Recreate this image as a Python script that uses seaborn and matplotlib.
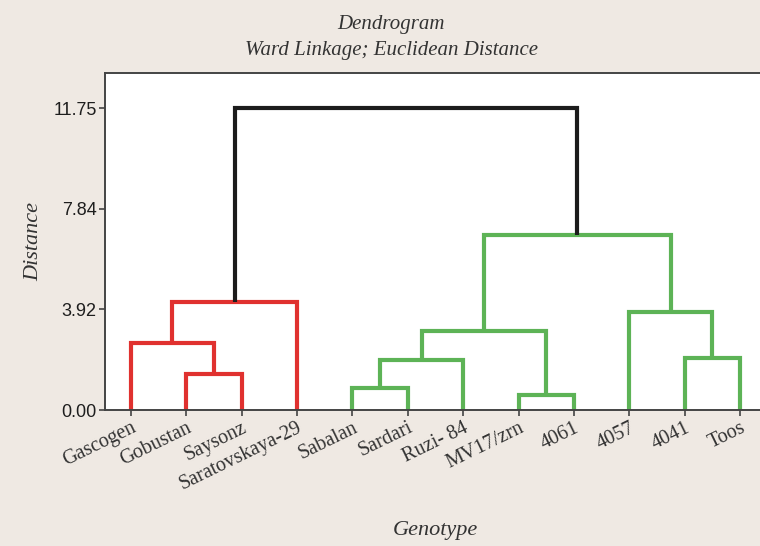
import matplotlib
matplotlib.use('Agg')
import matplotlib.pyplot as plt
import matplotlib.transforms as mtransforms
import pandas as pd
import seaborn as sns

# Leaves in display order
genotypes = ['Gascogen', 'Gobustan', 'Saysonz', 'Saratovskaya-29', 'Sabalan', 'Sardari',
             'Ruzi- 84', 'MV17/zrn', '4061', '4057', '4041', 'Toos']

# Linkage steps (scipy style: leaves 0..11, new clusters numbered from 12)
merge_left = [7, 4, 1, 13, 10, 0, 15, 9, 17, 18, 20]
merge_right = [8, 5, 2, 6, 11, 14, 12, 16, 3, 19, 21]
merge_height = [0.58, 0.86, 1.40, 1.95, 2.02, 2.59, 3.08, 3.82, 4.19, 6.81, 11.75]
merge_group = ['green', 'green', 'red', 'green', 'green', 'red', 'green', 'green', 'red', 'green', 'black']

y_ticks = [0.00, 3.92, 7.84, 11.75]

palette = {'red': '#e0312f', 'green': '#5db356', 'black': '#1c1c1c'}
bg = '#efe9e3'
serif = 'Liberation Serif'

# Build U-shaped segments for each link
n = len(genotypes)
pos = {i: float(i) for i in range(n)}
hgt = {i: 0.0 for i in range(n)}
rows = []
for k, (a, b, h, g) in enumerate(zip(merge_left, merge_right, merge_height, merge_group)):
    xa, xb = pos[a], pos[b]
    for x, y in [(xa, hgt[a]), (xa, h), (xb, h), (xb, hgt[b])]:
        rows.append({'x': x, 'y': y, 'link': k, 'group': g})
    pos[n + k] = (xa + xb) / 2
    hgt[n + k] = h
segments = pd.DataFrame(rows)

sns.set_theme(style='white')
plt.rcParams['font.family'] = ['Liberation Sans', 'DejaVu Sans']

fig = plt.figure(figsize=(7.6, 5.46), dpi=100, facecolor=bg)
ax = fig.add_axes([0.138, 0.249, 0.862, 0.617])
ax.set_facecolor('white')

sns.lineplot(data=segments, x='x', y='y', units='link', hue='group', palette=palette,
             estimator=None, sort=False, legend=False, lw=3.0, ax=ax,
             solid_joinstyle='miter', solid_capstyle='butt')

ax.set_xlim(-0.47, 11.36)
ax.set_ylim(0, 13.11)

ax.set_yticks(y_ticks)
ax.set_yticklabels([f'{v:.2f}' for v in y_ticks], fontsize=13, color='#1e1e1e')
ax.set_xticks(range(n))
ax.set_xticklabels(genotypes, rotation=26, ha='right', va='top', rotation_mode='anchor',
                   fontsize=14.5, family=serif, color='#333333')
offset = mtransforms.ScaledTranslation(6 / 100, -12 / 100, fig.dpi_scale_trans)
for lab in ax.get_xticklabels():
    lab.set_transform(lab.get_transform() + offset)

ax.tick_params(axis='both', which='major', direction='out', length=4, width=1.2,
               color='#444444', left=True, bottom=True, pad=2)

for side in ['left', 'bottom', 'top']:
    ax.spines[side].set_color('#444444')
    ax.spines[side].set_linewidth(1.4)
ax.spines['right'].set_visible(False)

ax.set_xlabel('Genotype', fontsize=16, family=serif, style='italic', color='#333333')
ax.set_ylabel('Distance', fontsize=16, family=serif, style='italic', color='#333333')
ax.xaxis.set_label_coords(0.505, -0.33)
ax.yaxis.set_label_coords(-0.094, 0.5)

fig.text(0.515, 0.955, 'Dendrogram', ha='center', va='center', fontsize=15,
         family=serif, style='italic', color='#333333')
fig.text(0.515, 0.908, 'Ward Linkage; Euclidean Distance', ha='center', va='center',
         fontsize=15, family=serif, style='italic', color='#333333')

fig.savefig('out.png', dpi=100, facecolor=bg)
